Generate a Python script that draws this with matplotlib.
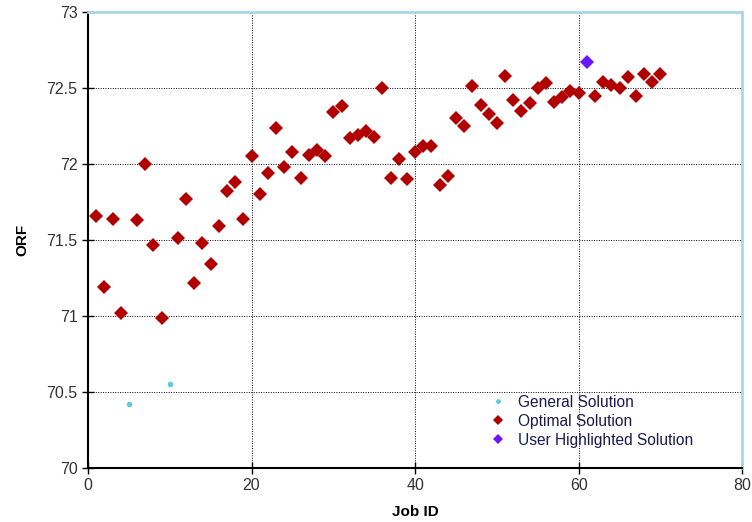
import matplotlib
matplotlib.use("Agg")
import matplotlib.pyplot as plt
from matplotlib.lines import Line2D

plt.rcParams['font.family'] = ['Liberation Sans', 'DejaVu Sans']

# General solutions
general_x = [5, 10]
general_y = [70.42, 70.55]

# Optimal solutions
optimal_x = [1, 2, 3, 4, 6, 7, 8, 9, 11, 12, 13, 14, 15, 16, 17, 18, 19, 20,
             21, 22, 23, 24, 25, 26, 27, 28, 29, 30, 31, 32, 33, 34, 35, 36, 37, 38, 39, 40,
             41, 42, 43, 44, 45, 46, 47, 48, 49, 50, 51, 52, 53, 54, 55, 56, 57, 58, 59, 60,
             62, 63, 64, 65, 66, 67, 68, 69, 70]
optimal_y = [71.66, 71.19, 71.64, 71.02, 71.63, 72.00, 71.47, 70.99, 71.51, 71.77,
             71.22, 71.48, 71.34, 71.59, 71.82, 71.88, 71.64, 72.05,
             71.80, 71.94, 72.24, 71.98, 72.08, 71.91, 72.06, 72.09, 72.05, 72.34,
             72.38, 72.17, 72.19, 72.22, 72.18, 72.50, 71.91, 72.03, 71.90, 72.08,
             72.12, 72.12, 71.86, 71.92, 72.30, 72.25, 72.51, 72.39, 72.33, 72.27,
             72.58, 72.42, 72.35, 72.40, 72.50, 72.53, 72.41, 72.44, 72.48, 72.47,
             72.45, 72.54, 72.52, 72.50, 72.57, 72.45, 72.59, 72.54, 72.59]

# User highlighted solution
user_x = [61]
user_y = [72.67]

x_ticks = [0, 20, 40, 60, 80]
y_ticks = [70, 70.5, 71, 71.5, 72, 72.5, 73]
y_tick_labels = ['70', '70.5', '71', '71.5', '72', '72.5', '73']

c_general = '#5ccbe0'
c_optimal = '#b00000'
c_user = '#6a14ff'

fig = plt.figure(figsize=(7.52, 5.22), dpi=100)
ax = fig.add_axes([0.117, 0.1034, 0.870, 0.8736])

ax.plot(general_x, general_y, 'o', color=c_general, markersize=4, markeredgewidth=0, zorder=3)
ax.plot(optimal_x, optimal_y, 'D', color=c_optimal, markersize=7.2, markeredgewidth=0, zorder=3)
ax.plot(user_x, user_y, 'D', color=c_user, markersize=7.2, markeredgewidth=0, zorder=3)

ax.set_xlim(0, 80)
ax.set_ylim(70, 73)
ax.set_xticks(x_ticks)
ax.set_yticks(y_ticks)
ax.set_yticklabels(y_tick_labels)
ax.tick_params(direction='inout', length=8, width=1, labelsize=11.5, colors='black',
               labelcolor='#333333')

ax.grid(True, color='black', linestyle=(0, (1, 1.5)), linewidth=0.7)
ax.set_axisbelow(True)

for s in ['top', 'right']:
    ax.spines[s].set_color('#a8d8e8')
    ax.spines[s].set_linestyle((0, (1, 1)))
    ax.spines[s].set_linewidth(2)
for s in ['left', 'bottom']:
    ax.spines[s].set_color('black')
    ax.spines[s].set_linewidth(1.5)

ax.set_xlabel('Job ID', fontsize=11, fontweight='bold', labelpad=8)
ax.set_ylabel('ORF', fontsize=11, fontweight='bold', labelpad=12)

handles = [
    Line2D([], [], marker='o', linestyle='none', color=c_general, markersize=3.5, markeredgewidth=0),
    Line2D([], [], marker='D', linestyle='none', color=c_optimal, markersize=5.5, markeredgewidth=0),
    Line2D([], [], marker='D', linestyle='none', color=c_user, markersize=5.5, markeredgewidth=0),
]
leg = ax.legend(handles, ['General Solution', 'Optimal Solution', 'User Highlighted Solution'],
                loc='lower left', bbox_to_anchor=(0.593, 0.014), frameon=False, fontsize=11.2,
                handletextpad=0.8, labelspacing=0.25, handlelength=1.0)
for t in leg.get_texts():
    t.set_color('#1a1a50')

fig.savefig('out.png', dpi=100)
